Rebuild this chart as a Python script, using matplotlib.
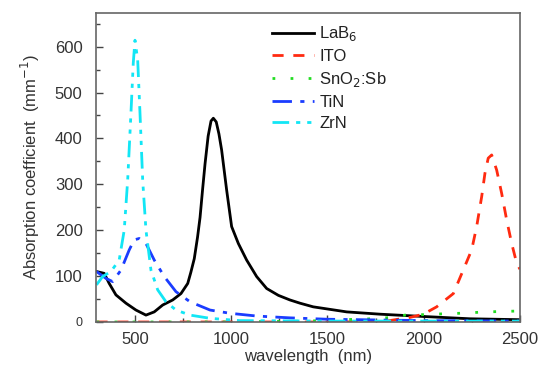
import matplotlib
matplotlib.use("Agg")
import matplotlib.pyplot as plt
from matplotlib.ticker import MultipleLocator

plt.rcParams['font.family'] = ['Liberation Sans', 'DejaVu Sans']

lab6_x = [300, 340, 366, 401, 453, 505, 557, 600, 644, 696, 739, 774, 790, 808, 825, 838, 851, 864, 880, 895,
          907, 922, 936, 950, 976, 1002, 1037, 1080, 1132, 1184, 1245, 1305, 1357, 1426, 1600, 1773, 1998,
          2240, 2500]
lab6_y = [110, 106, 84, 59, 41, 26, 15, 22, 37, 48, 62, 84, 108, 138, 185, 228, 288, 345, 405, 438,
          444, 436, 410, 375, 288, 208, 171, 135, 99, 73, 58, 48, 41, 33, 22, 17, 12,
          7, 5]

ito_x = [300, 1000, 1500, 1700, 1807, 1929, 1998, 2067, 2154, 2205, 2249, 2275, 2301, 2318, 2335, 2353,
         2379, 2405, 2431, 2457, 2483, 2500]
ito_y = [0, 0, 0, 0.5, 2, 10, 17, 33, 62, 113, 157, 208, 273, 324, 357, 364,
         331, 280, 222, 171, 128, 115]

sno2_x = [300, 1000, 1200, 1409, 1548, 1686, 1842, 1903, 1941, 2048, 2188, 2327, 2500]
sno2_y = [0, 0, 1, 2, 5, 6, 10, 15, 15, 17, 19, 22, 24]

tin_x = [300, 349, 384, 427, 470, 496, 522, 557, 600, 652, 713, 786, 890, 993, 1132, 1305, 1500, 2000, 2500]
tin_y = [110, 95, 88, 113, 157, 179, 182, 171, 135, 99, 66, 44, 26, 19, 13, 9, 6, 3, 2]

zrn_x = [300, 332, 375, 418, 444, 462, 479, 491, 500, 514, 526, 540, 557, 583, 618, 661, 713, 786, 890,
         1045, 1500, 2000, 2500]
zrn_y = [81, 99, 110, 135, 200, 309, 455, 564, 614, 571, 455, 309, 200, 113, 70, 44, 26, 15, 8,
         3, 2, 2, 2]

fig = plt.figure(figsize=(5.43, 3.69), dpi=100)
ax = fig.add_axes([0.1777, 0.1274, 0.9576 - 0.1777, 0.9656 - 0.1274])

ax.plot(lab6_x, lab6_y, color='black', lw=2.0, label='LaB$_6$')
ax.plot(ito_x, ito_y, color='#ff2a10', lw=2.0, dashes=(4, 3.5), label='ITO')
ax.plot(sno2_x, sno2_y, color='#22dd22', lw=2.0, dashes=(1, 5.5), label='SnO$_2$:Sb')
ax.plot(tin_x, tin_y, color='#1a3cff', lw=2.0, dashes=(7, 3, 1.5, 3), label='TiN')
ax.plot(zrn_x, zrn_y, color='#12e6f5', lw=2.0, dashes=(6, 2.5, 1.5, 2.5, 1.5, 2.5), label='ZrN')

ax.set_xlim(300, 2500)
ax.set_ylim(0, 674)
ax.xaxis.set_major_locator(MultipleLocator(500))
ax.xaxis.set_minor_locator(MultipleLocator(250))
ax.yaxis.set_major_locator(MultipleLocator(100))
ax.yaxis.set_minor_locator(MultipleLocator(50))
ax.tick_params(which='both', direction='in', colors='#444444', labelcolor='#333333', labelsize=12)
ax.tick_params(which='major', length=5, width=1)
ax.tick_params(which='minor', length=3, width=1)
ax.tick_params(axis='y', pad=10)
ax.tick_params(axis='x', pad=7)
for s in ax.spines.values():
    s.set_color('#666666')
    s.set_linewidth(1.2)

fig.canvas.draw()
for l in ax.get_yticklabels():
    if l.get_text() in ('0', '−0'):
        l.set_fontsize(9)

ax.set_xlabel('wavelength  (nm)', fontsize=12, color='#333333', labelpad=2)
ax.set_ylabel('Absorption coefficient  (mm$^{-1}$)', fontsize=12, color='#333333', labelpad=9)

leg = ax.legend(loc='upper left', bbox_to_anchor=(0.388, 1.0), frameon=False, fontsize=12,
                handlelength=2.5, handletextpad=0.3, labelspacing=0.35, borderaxespad=0.3)
for t in leg.get_texts():
    t.set_color('#222222')

fig.savefig('out.png', dpi=100)
